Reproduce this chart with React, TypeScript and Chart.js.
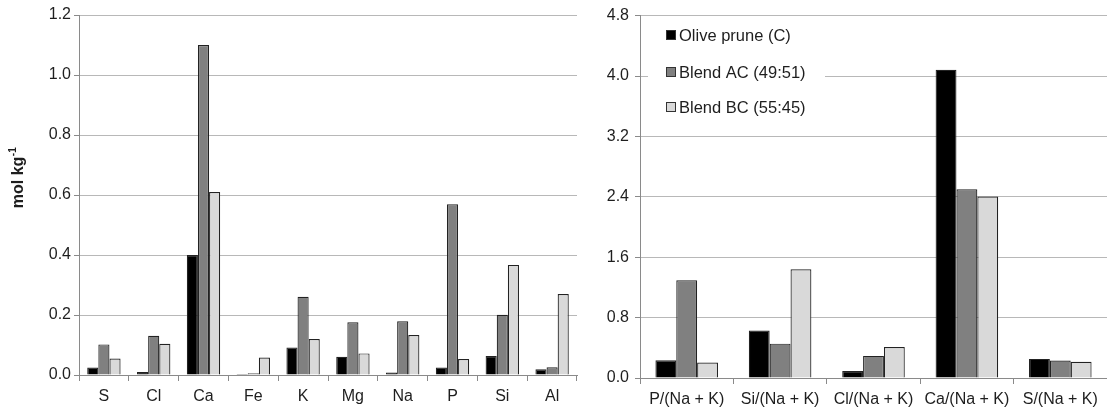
import React, { useEffect, useRef } from 'react';
import { Chart, registerables } from 'chart.js';

Chart.register(...registerables);

const elementLabels = ['S', 'Cl', 'Ca', 'Fe', 'K', 'Mg', 'Na', 'P', 'Si', 'Al'];
const oliveElements = [0.025, 0.010, 0.400, 0.003, 0.092, 0.061, 0.008, 0.025, 0.063, 0.019];
const blendACElements = [0.102, 0.131, 1.100, 0.006, 0.261, 0.176, 0.179, 0.569, 0.201, 0.026];
const blendBCElements = [0.055, 0.104, 0.610, 0.058, 0.120, 0.072, 0.133, 0.053, 0.367, 0.270];

const ratioLabels = ['P/(Na + K)', 'Si/(Na + K)', 'Cl/(Na + K)', 'Ca/(Na + K)', 'S/(Na + K)'];
const oliveRatios = [0.236, 0.630, 0.092, 4.083, 0.253];
const blendACRatios = [1.294, 0.455, 0.293, 2.500, 0.232];
const blendBCRatios = [0.206, 1.440, 0.410, 2.404, 0.214];

const seriesNames = ['Olive prune (C)', 'Blend AC (49:51)', 'Blend BC (55:45)'];
const seriesColors = ['#000000', '#808080', '#d9d9d9'];

const FONT = '"Liberation Sans", Arial, sans-serif';
const GRID = '#b8b8b8';
const AXIS = '#8a8a8a';
const TEXT = '#1e1e1e';

function makeDatasets(values: number[][]) {
  return values.map((v, i) => ({
    label: seriesNames[i],
    data: v,
    backgroundColor: seriesColors[i],
    borderColor: '#222222',
    borderWidth: 1.2,
    categoryPercentage: 0.67,
    barPercentage: 1.0,
  }));
}

const yTitlePlugin = {
  id: 'yTitle',
  afterDraw(chart: any) {
    const ctx = chart.ctx;
    ctx.save();
    ctx.translate(19, 178);
    ctx.rotate(-Math.PI / 2);
    ctx.fillStyle = TEXT;
    ctx.textBaseline = 'middle';
    ctx.textAlign = 'left';
    ctx.font = `bold 16px ${FONT}`;
    const main = 'mol kg';
    const w1 = ctx.measureText(main).width;
    ctx.font = `bold 10px ${FONT}`;
    const sup = '-1';
    const w2 = ctx.measureText(sup).width;
    const start = -(w1 + w2) / 2;
    ctx.font = `bold 16px ${FONT}`;
    ctx.fillText(main, start, 0);
    ctx.font = `bold 10px ${FONT}`;
    ctx.fillText(sup, start + w1 + 0.5, -6);
    ctx.restore();
  },
};

const legendPlugin = {
  id: 'innerLegend',
  beforeDatasetsDraw(chart: any) {
    const ctx = chart.ctx;
    ctx.save();
    ctx.fillStyle = '#ffffff';
    ctx.fillRect(68, 20, 177, 102);
    const rows = [35, 72, 107];
    ctx.font = `16.5px ${FONT}`;
    ctx.textBaseline = 'middle';
    ctx.textAlign = 'left';
    seriesNames.forEach((name, i) => {
      const y = rows[i];
      ctx.fillStyle = seriesColors[i];
      ctx.fillRect(86, y - 5, 10, 10);
      ctx.strokeStyle = '#333333';
      ctx.lineWidth = 1;
      ctx.strokeRect(86.5, y - 4.5, 9, 9);
      ctx.fillStyle = TEXT;
      ctx.fillText(name, 99, y + 1);
    });
    ctx.restore();
  },
};

function baseOptions(max: number, step: number, yWidth: number, xHeight: number, pad: any, yPad: number) {
  return {
    responsive: false,
    animation: false,
    events: [],
    layout: { padding: pad },
    plugins: { legend: { display: false }, tooltip: { enabled: false }, title: { display: false } },
    scales: {
      x: {
        type: 'category',
        offset: true,
        grid: {
          display: true,
          offset: true,
          drawOnChartArea: false,
          drawTicks: true,
          tickLength: 6,
          tickColor: AXIS,
          lineWidth: 1,
        },
        border: { display: true, color: AXIS, width: 1 },
        ticks: { color: TEXT, font: { size: 16, family: FONT }, padding: 6, maxRotation: 0, autoSkip: false },
        afterFit: (s: any) => { s.height = xHeight; },
      },
      y: {
        min: 0,
        max,
        grid: {
          color: GRID,
          lineWidth: 1,
          drawTicks: true,
          tickLength: 5,
          tickColor: AXIS,
        },
        border: { display: true, color: AXIS, width: 1 },
        ticks: {
          stepSize: step,
          color: TEXT,
          font: { size: 16, family: FONT },
          padding: yPad,
          callback: (v: any) => Number(v).toFixed(1),
        },
        afterFit: (s: any) => { s.width = yWidth; },
      },
    },
  };
}

function BarChart(props: {
  width: number; labels: string[]; values: number[][]; max: number; step: number;
  yWidth: number; xHeight: number; pad: any; yPad: number; plugins: any[]; left: number;
}) {
  const ref = useRef<HTMLCanvasElement | null>(null);
  useEffect(() => {
    if (!ref.current) return;
    const chart = new Chart(ref.current, {
      type: 'bar',
      data: { labels: props.labels, datasets: makeDatasets(props.values) as any },
      options: baseOptions(props.max, props.step, props.yWidth, props.xHeight, props.pad, props.yPad) as any,
      plugins: props.plugins,
    });
    return () => chart.destroy();
  }, []);
  return (
    <canvas
      ref={ref}
      width={props.width}
      height={412}
      style={{ position: 'absolute', left: props.left, top: 0, width: props.width, height: 412 }}
    />
  );
}

export default function App() {
  Chart.defaults.font.family = FONT;
  return (
    <div style={{ position: 'fixed', left: 0, top: 0, width: 1107, height: 412, background: '#ffffff', overflow: 'hidden' }}>
      <BarChart
        left={0}
        width={590}
        labels={elementLabels}
        values={[oliveElements, blendACElements, blendBCElements]}
        max={1.2}
        step={0.2}
        yWidth={79}
        xHeight={37}
        pad={{ left: 0, top: 15, right: 13, bottom: 0 }}
        yPad={3}
        plugins={[yTitlePlugin]}
      />
      <BarChart
        left={580}
        width={527}
        labels={ratioLabels}
        values={[oliveRatios, blendACRatios, blendBCRatios]}
        max={4.8}
        step={0.8}
        yWidth={60}
        xHeight={34}
        pad={{ left: 0, top: 12, right: 0, bottom: 0 }}
        yPad={6}
        plugins={[legendPlugin]}
      />
    </div>
  );
}
